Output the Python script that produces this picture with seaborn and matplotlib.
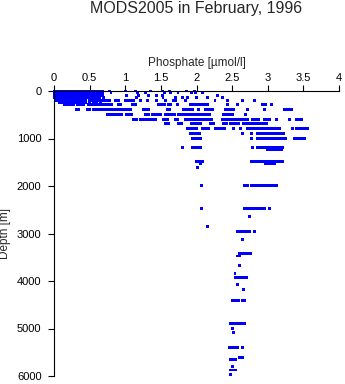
import matplotlib
matplotlib.use("Agg")
import matplotlib.pyplot as plt
import seaborn as sns
import pandas as pd

# depth levels [m] and phosphate values [umol/l] observed at each level
depth_levels = [0, 40, 90, 140, 200, 250, 290, 385, 490, 596, 690, 785, 890, 996,
                1190, 1240, 1480, 1520, 1620, 1985, 2470, 2640, 2850, 2954, 3122,
                3431, 3474, 3677, 3838, 3930, 4077, 4175, 4414, 4891, 5004, 5088,
                5396, 5614, 5656, 5796, 5874, 5965]

phos_0 = [0, 0.04, 0.08, 0.12, 0.16, 0.2, 0.24, 0.28, 0.32, 0.36, 0.4, 0.44, 0.48, 0.52,
          0.56, 0.6, 0.64, 0.68, 0.78, 1.0, 1.15, 1.36, 1.52, 1.62, 1.86, 1.97]
phos_40 = [0, 0.04, 0.08, 0.12, 0.16, 0.2, 0.24, 0.28, 0.32, 0.36, 0.4, 0.44, 0.48, 0.52,
           0.56, 0.6, 0.64, 0.68, 0.8, 1.17, 1.28, 1.55, 1.64, 1.74, 1.93, 1.99, 2.08]
phos_90 = [0, 0.04, 0.08, 0.12, 0.16, 0.2, 0.24, 0.28, 0.32, 0.36, 0.4, 0.44, 0.48, 0.52,
           0.56, 0.6, 0.64, 0.68, 1.02, 1.19, 1.32, 1.44, 1.52, 2.3]
phos_140 = [0, 0.04, 0.08, 0.12, 0.16, 0.2, 0.24, 0.28, 0.32, 0.36, 0.4, 0.44, 0.48, 0.52,
            0.56, 0.6, 0.64, 0.7, 1.16, 1.53, 1.7, 1.8, 1.88, 2.0, 2.15, 2.36]
phos_200 = [0.04, 0.08, 0.12, 0.16, 0.2, 0.24, 0.28, 0.32, 0.36, 0.4, 0.44, 0.5, 0.54, 0.58,
            0.62, 0.66, 0.7, 0.74, 0.78, 0.86, 0.9, 1.0, 1.04, 1.08, 1.12, 1.22, 1.31, 1.44,
            1.57, 1.68, 1.71, 1.85, 2.26, 2.43, 2.64, 2.81]
phos_250 = [0.08, 0.12, 0.16, 0.2, 0.24, 0.28, 0.32, 0.36, 0.4, 0.44, 0.5, 0.55, 0.6, 0.65]
phos_290 = [0.15, 0.19, 0.23, 0.27, 0.33, 0.37, 0.41, 0.48, 0.52, 0.56, 0.6, 0.64, 0.68,
            0.72, 0.77, 0.81, 0.9, 0.94, 1.1, 1.14, 1.47, 1.51, 1.55, 1.6, 1.64, 1.73, 1.92,
            1.96, 2.0, 2.04, 2.08, 2.12, 2.15, 2.43, 2.57, 2.93, 2.97, 3.05]
phos_385 = [0.32, 0.35, 0.47, 0.5, 0.55, 0.59, 0.63, 0.67, 0.71, 0.75, 0.79, 0.83, 0.87,
            0.91, 0.95, 0.99, 1.03, 1.07, 1.25, 1.29, 1.33, 1.59, 1.62, 1.82, 1.86, 1.9,
            1.94, 2.03, 2.12, 2.16, 2.2, 2.23, 2.4, 2.44, 2.48, 2.52, 2.72, 2.96, 3.23, 3.27,
            3.31, 3.34]
phos_490 = [0.75, 0.79, 0.83, 0.88, 0.92, 0.95, 1.02, 1.06, 1.09, 1.29, 1.33, 1.38, 1.42,
            1.46, 1.5, 1.57, 1.61, 1.65, 1.69, 1.75, 1.79, 1.83, 1.87, 1.91, 1.95, 1.99,
            2.03, 2.07, 2.1, 2.14, 2.18, 2.38, 2.42, 2.46, 2.5, 2.69]
phos_596 = [1.12, 1.16, 1.22, 1.26, 1.3, 1.34, 1.38, 1.42, 1.53, 1.57, 1.6, 1.71, 1.74,
            1.85, 1.89, 1.93, 1.97, 2.01, 2.05, 2.09, 2.13, 2.17, 2.21, 2.37, 2.4, 2.44,
            2.48, 2.52, 2.56, 2.6, 2.64, 2.68, 2.71, 2.79, 2.83, 2.87, 2.96, 3.0, 3.03,
            3.12, 3.31, 3.41, 3.45, 3.48]
phos_690 = [1.57, 1.61, 1.75, 1.79, 1.93, 1.97, 2.01, 2.05, 2.2, 2.24, 2.38, 2.42, 2.47,
            2.51, 2.55, 2.59, 2.66, 2.7, 2.74, 2.78, 2.82, 2.86, 2.9, 2.94, 2.98]
phos_785 = [1.87, 1.92, 1.96, 2.0, 2.09, 2.12, 2.17, 2.27, 2.31, 2.35, 2.39, 2.52, 2.62,
            2.72, 2.76, 2.8, 2.84, 2.88, 2.92, 2.96, 3.0, 3.04, 3.08, 3.12, 3.16, 3.35,
            3.41, 3.45, 3.49, 3.52, 3.56]
phos_890 = [1.92, 1.96, 2.0, 2.04, 2.65, 2.77, 2.86, 2.9, 2.94, 2.98, 3.02, 3.06, 3.1,
            3.14, 3.18, 3.22]
phos_996 = [1.94, 1.98, 2.02, 2.05, 2.77, 2.86, 2.9, 2.94, 2.98, 3.02, 3.06, 3.1, 3.14,
            3.18, 3.22, 3.25, 3.37, 3.4, 3.45, 3.49, 3.52]
phos_1190 = [1.81, 1.95, 1.99, 2.03, 2.06, 2.79, 2.85, 2.89, 2.93, 2.97, 3.01, 3.05, 3.09,
             3.13, 3.17, 3.21]
phos_1240 = [3.0, 3.04, 3.08, 3.12, 3.16, 3.2]
phos_1480 = [2.0, 2.04, 2.08, 2.77, 2.81, 2.85, 2.89, 2.93, 2.97, 3.01, 3.05, 3.09, 3.13,
             3.17, 3.21]
phos_1520 = [2.05, 2.97, 3.01, 3.05, 3.09]
phos_1620 = [2.02]
phos_1985 = [2.07, 2.67, 2.71, 2.77, 2.81, 2.85, 2.89, 2.93, 2.97, 3.01, 3.05, 3.09, 3.13]
phos_2470 = [2.07, 2.67, 2.71, 2.75, 2.79, 2.83, 2.87, 2.91, 2.95, 3.02]
phos_2640 = [2.74]
phos_2850 = [2.16]
phos_2954 = [2.58, 2.62, 2.66, 2.7, 2.74, 2.81]
phos_3122 = [2.64]
phos_3431 = [2.6, 2.64, 2.68, 2.72, 2.76]
phos_3474 = [2.57, 2.61]
phos_3677 = [2.61]
phos_3838 = [2.54]
phos_3930 = [2.54, 2.58, 2.62, 2.66, 2.7]
phos_4077 = [2.58]
phos_4175 = [2.66]
phos_4414 = [2.51, 2.55, 2.59, 2.65, 2.68]
phos_4891 = [2.48, 2.52, 2.56, 2.6, 2.64, 2.68]
phos_5004 = [2.51]
phos_5088 = [2.52]
phos_5396 = [2.46, 2.5, 2.54, 2.58, 2.64]
phos_5614 = [2.61, 2.65]
phos_5656 = [2.47, 2.51, 2.55]
phos_5796 = [2.5]
phos_5874 = [2.47, 2.51, 2.55]
phos_5965 = [2.48]

phos_lists = [phos_0, phos_40, phos_90, phos_140, phos_200, phos_250, phos_290, phos_385,
              phos_490, phos_596, phos_690, phos_785, phos_890, phos_996, phos_1190,
              phos_1240, phos_1480, phos_1520, phos_1620, phos_1985, phos_2470, phos_2640,
              phos_2850, phos_2954, phos_3122, phos_3431, phos_3474, phos_3677, phos_3838,
              phos_3930, phos_4077, phos_4175, phos_4414, phos_4891, phos_5004, phos_5088,
              phos_5396, phos_5614, phos_5656, phos_5796, phos_5874, phos_5965]

x_ticks = [0, 0.5, 1, 1.5, 2, 2.5, 3, 3.5, 4]
x_tick_labels = ["0", "0.5", "1", "1.5", "2", "2.5", "3", "3.5", "4"]
y_ticks = [0, 1000, 2000, 3000, 4000, 5000, 6000]

rows = []
for d, plist in zip(depth_levels, phos_lists):
    for p in plist:
        rows.append({"Phosphate": p, "Depth": d})
df = pd.DataFrame(rows)

sns.set_style("ticks")
plt.rcParams["font.family"] = ["Liberation Sans", "DejaVu Sans"]

fig = plt.figure(figsize=(3.45, 3.84), dpi=100)
ax = fig.add_axes([54 / 345, 1 - 376 / 384, 285 / 345, 285 / 384])

sns.scatterplot(data=df, x="Phosphate", y="Depth", ax=ax, marker="s", s=4.5,
                color="#0000ff", linewidth=0, edgecolor="none", legend=False,
                clip_on=False)

ax.set_xlim(0, 4)
ax.set_ylim(6000, 0)
ax.xaxis.set_label_position("top")
ax.xaxis.tick_top()
ax.set_xticks(x_ticks)
ax.set_xticklabels(x_tick_labels)
ax.set_yticks(y_ticks)
ax.set_yticklabels([str(v) for v in y_ticks])
ax.tick_params(axis="both", labelsize=8, length=4, width=0.8, color="black",
               labelcolor="black", direction="out")
ax.tick_params(axis="x", pad=2)
ax.tick_params(axis="y", pad=5)
for side in ["bottom", "right"]:
    ax.spines[side].set_visible(False)
for side in ["top", "left"]:
    ax.spines[side].set_color("black")
    ax.spines[side].set_linewidth(0.8)

ax.set_xlabel("Phosphate [µmol/l]", fontsize=8.5, labelpad=5)
ax.set_ylabel("Depth [m]", fontsize=8.5, labelpad=4)

fig.text(196.5 / 345, 1 - 8 / 384, "MODS2005 in February, 1996", ha="center",
         va="center", fontsize=11.5)

fig.savefig("out.png", dpi=100)
